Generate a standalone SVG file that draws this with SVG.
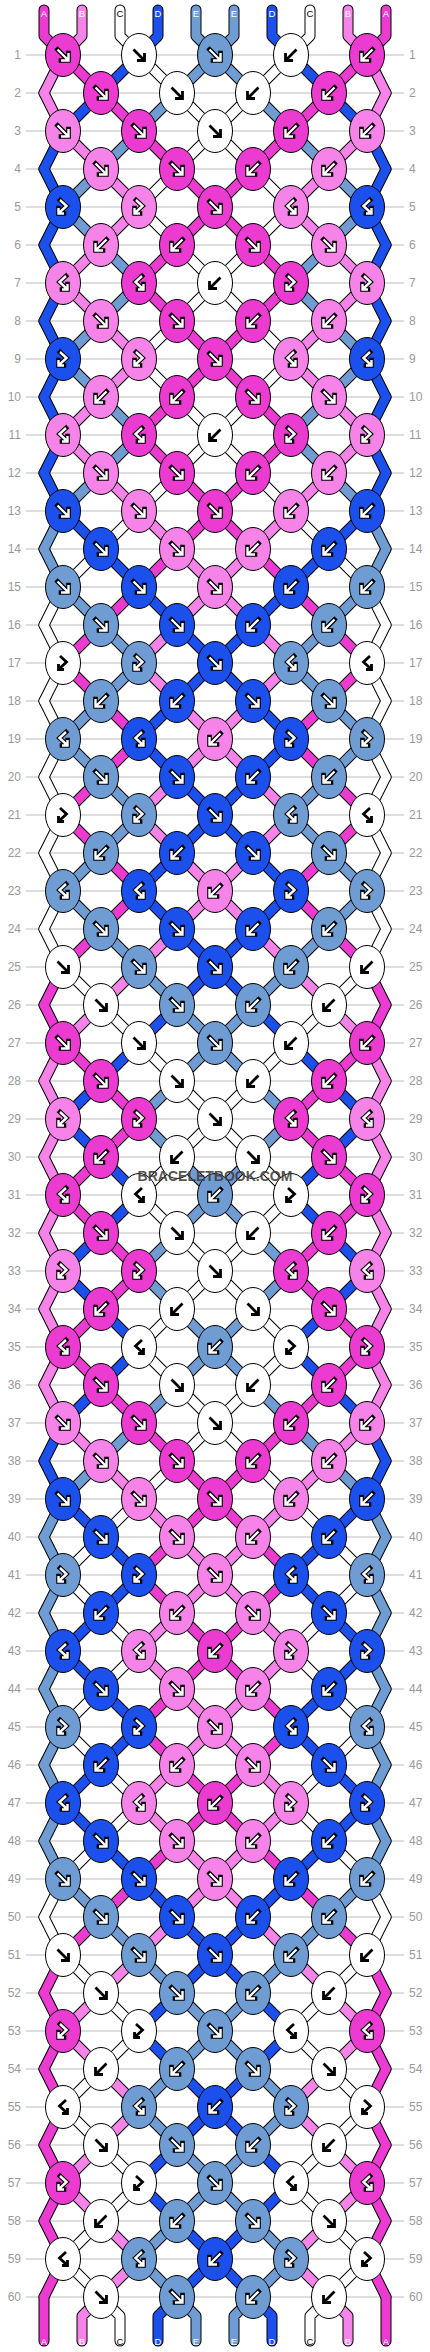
<svg xmlns="http://www.w3.org/2000/svg" xmlns:xlink="http://www.w3.org/1999/xlink" width="430" height="2352" viewBox="0 0 430 2352">
<style>
.ln{fill:none;stroke:#bbb;stroke-width:1}
.num{font-family:"Liberation Sans",Arial,sans-serif;font-size:12px;fill:#999}
.ol{fill:none;stroke:#000;stroke-width:11;stroke-linecap:round;stroke-linejoin:round}
.fl{fill:none;stroke-width:9;stroke-linecap:round;stroke-linejoin:round}
.sM{stroke:#eb3bd0}.sP{stroke:#f683e8}.sW{stroke:#fff}.sD{stroke:#1c50ec}.sL{stroke:#6f9dd3}
.e{stroke:#000;stroke-width:1}
.go{fill:none;stroke:#000;stroke-width:4.6;stroke-linecap:square}
.gi{fill:none;stroke:#fff;stroke-width:2.4}
.gb{fill:none;stroke:#000;stroke-width:2.8}
.lab{font-family:"Liberation Sans",Arial,sans-serif;font-size:9.5px;text-anchor:middle}
.wm{font-family:"Liberation Sans",Arial,sans-serif;font-size:14px;font-weight:bold;fill:#3c3c3c;fill-opacity:.88;text-anchor:middle}
</style>
<defs>
<path id="gF" d="M-5.5-5.5L4.5 4.5M5.5-2V5.5H-2"/>
<path id="gB" d="M5.5-5.5L-4.5 4.5M-5.5-2V5.5H2"/>
<path id="gfb" d="M-3-7L3.5-1L-3.5 5.5M-4.5 1V6.5H1"/>
<path id="gbf" d="M3-7L-3.5-1L3.5 5.5M4.5 1V6.5H-1"/>
<g id="wF"><use href="#gF" class="go"/><use href="#gF" class="gi"/></g>
<g id="wB"><use href="#gB" class="go"/><use href="#gB" class="gi"/></g>
<g id="wfb"><use href="#gfb" class="go"/><use href="#gfb" class="gi"/></g>
<g id="wbf"><use href="#gbf" class="go"/><use href="#gbf" class="gi"/></g>
<ellipse id="eM" class="e" fill="#eb3bd0" rx="17.5" ry="21.5"/>
<ellipse id="eP" class="e" fill="#f683e8" rx="17.5" ry="21.5"/>
<ellipse id="eW" class="e" fill="#fff" rx="17.5" ry="21.5"/>
<ellipse id="eD" class="e" fill="#1c50ec" rx="17.5" ry="21.5"/>
<ellipse id="eL" class="e" fill="#6f9dd3" rx="17.5" ry="21.5"/>
<g id="MF"><use href="#eM"/><use href="#wF"/></g>
<g id="MB"><use href="#eM"/><use href="#wB"/></g>
<g id="Mfb"><use href="#eM"/><use href="#wfb"/></g>
<g id="Mbf"><use href="#eM"/><use href="#wbf"/></g>
<g id="PF"><use href="#eP"/><use href="#wF"/></g>
<g id="PB"><use href="#eP"/><use href="#wB"/></g>
<g id="Pfb"><use href="#eP"/><use href="#wfb"/></g>
<g id="Pbf"><use href="#eP"/><use href="#wbf"/></g>
<g id="DF"><use href="#eD"/><use href="#wF"/></g>
<g id="DB"><use href="#eD"/><use href="#wB"/></g>
<g id="Dfb"><use href="#eD"/><use href="#wfb"/></g>
<g id="Dbf"><use href="#eD"/><use href="#wbf"/></g>
<g id="LF"><use href="#eL"/><use href="#wF"/></g>
<g id="LB"><use href="#eL"/><use href="#wB"/></g>
<g id="Lfb"><use href="#eL"/><use href="#wfb"/></g>
<g id="Lbf"><use href="#eL"/><use href="#wbf"/></g>
<g id="WF"><use href="#eW"/><use href="#gF" class="gb"/></g>
<g id="WB"><use href="#eW"/><use href="#gB" class="gb"/></g>
<g id="Wfb"><use href="#eW"/><use href="#gfb" class="gb"/></g>
<g id="Wbf"><use href="#eW"/><use href="#gbf" class="gb"/></g>
<path id="o0" d="M63 0l-19 38M367 0l19 38"/>
<path id="o1" d="M63 0l38 38M367 0l-38 38"/>
<path id="o2" d="M139 0l-38 38M291 0l38 38"/>
<path id="o3" d="M139 0l38 38M291 0l-38 38"/>
<path id="o4" d="M177 38L215 0L253 38"/>
<path id="e0" d="M44 0l19 38M386 0l-19 38"/>
<path id="e1" d="M101 0l-38 38M329 0l38 38"/>
<path id="e2" d="M101 0l38 38M329 0l-38 38"/>
<path id="e3" d="M177 0l-38 38M253 0l38 38"/>
<path id="e4" d="M177 0l38 38M253 0l-38 38"/>
<g id="Oo"><use href="#o0"/><use href="#o1"/><use href="#o2"/><use href="#o3"/><use href="#o4"/></g>
<g id="Oe"><use href="#e0"/><use href="#e1"/><use href="#e2"/><use href="#e3"/><use href="#e4"/></g>
<g id="S0o"><use href="#o0" class="sM"/><use href="#o1" class="sP"/><use href="#o2" class="sW"/><use href="#o3" class="sD"/><use href="#o4" class="sL"/></g>
<g id="S1o"><use href="#o0" class="sP"/><use href="#o1" class="sM"/><use href="#o2" class="sD"/><use href="#o3" class="sW"/><use href="#o4" class="sL"/></g>
<g id="S2o"><use href="#o0" class="sP"/><use href="#o1" class="sD"/><use href="#o2" class="sM"/><use href="#o3" class="sL"/><use href="#o4" class="sW"/></g>
<g id="S3o"><use href="#o0" class="sD"/><use href="#o1" class="sP"/><use href="#o2" class="sL"/><use href="#o3" class="sM"/><use href="#o4" class="sW"/></g>
<g id="S4o"><use href="#o0" class="sD"/><use href="#o1" class="sL"/><use href="#o2" class="sP"/><use href="#o3" class="sW"/><use href="#o4" class="sM"/></g>
<g id="S5o"><use href="#o0" class="sL"/><use href="#o1" class="sD"/><use href="#o2" class="sW"/><use href="#o3" class="sP"/><use href="#o4" class="sM"/></g>
<g id="S6o"><use href="#o0" class="sL"/><use href="#o1" class="sW"/><use href="#o2" class="sD"/><use href="#o3" class="sM"/><use href="#o4" class="sP"/></g>
<g id="S7o"><use href="#o0" class="sW"/><use href="#o1" class="sL"/><use href="#o2" class="sM"/><use href="#o3" class="sD"/><use href="#o4" class="sP"/></g>
<g id="S8o"><use href="#o0" class="sW"/><use href="#o1" class="sM"/><use href="#o2" class="sL"/><use href="#o3" class="sP"/><use href="#o4" class="sD"/></g>
<g id="S9o"><use href="#o0" class="sM"/><use href="#o1" class="sW"/><use href="#o2" class="sP"/><use href="#o3" class="sL"/><use href="#o4" class="sD"/></g>
<g id="S0e"><use href="#e0" class="sM"/><use href="#e1" class="sP"/><use href="#e2" class="sW"/><use href="#e3" class="sD"/><use href="#e4" class="sL"/></g>
<g id="S1e"><use href="#e0" class="sP"/><use href="#e1" class="sM"/><use href="#e2" class="sD"/><use href="#e3" class="sW"/><use href="#e4" class="sL"/></g>
<g id="S2e"><use href="#e0" class="sP"/><use href="#e1" class="sD"/><use href="#e2" class="sM"/><use href="#e3" class="sL"/><use href="#e4" class="sW"/></g>
<g id="S3e"><use href="#e0" class="sD"/><use href="#e1" class="sP"/><use href="#e2" class="sL"/><use href="#e3" class="sM"/><use href="#e4" class="sW"/></g>
<g id="S4e"><use href="#e0" class="sD"/><use href="#e1" class="sL"/><use href="#e2" class="sP"/><use href="#e3" class="sW"/><use href="#e4" class="sM"/></g>
<g id="S5e"><use href="#e0" class="sL"/><use href="#e1" class="sD"/><use href="#e2" class="sW"/><use href="#e3" class="sP"/><use href="#e4" class="sM"/></g>
<g id="S6e"><use href="#e0" class="sL"/><use href="#e1" class="sW"/><use href="#e2" class="sD"/><use href="#e3" class="sM"/><use href="#e4" class="sP"/></g>
<g id="S7e"><use href="#e0" class="sW"/><use href="#e1" class="sL"/><use href="#e2" class="sM"/><use href="#e3" class="sD"/><use href="#e4" class="sP"/></g>
<g id="S8e"><use href="#e0" class="sW"/><use href="#e1" class="sM"/><use href="#e2" class="sL"/><use href="#e3" class="sP"/><use href="#e4" class="sD"/></g>
<g id="S9e"><use href="#e0" class="sM"/><use href="#e1" class="sW"/><use href="#e2" class="sP"/><use href="#e3" class="sL"/><use href="#e4" class="sD"/></g>
<path id="top" d="M44 10V36L63 55M82 10V36L63 55M120 10V36L139 55M158 10V36L139 55M196 10V36L215 55M234 10V36L215 55M272 10V36L291 55M310 10V36L291 55M348 10V36L367 55M386 10V36L367 55"/>
<path id="bot" d="M44 2297V2341M101 2297L82 2316V2341M101 2297L120 2316V2341M177 2297L158 2316V2341M177 2297L196 2316V2341M253 2297L234 2316V2341M253 2297L272 2316V2341M329 2297L310 2316V2341M329 2297L348 2316V2341M386 2297V2341"/>
</defs>
<rect width="430" height="2352" fill="#fff"/>
<g id="grid">
<path class="ln" d="M26 55H404M26 93H404M26 131H404M26 169H404M26 207H404M26 245H404M26 283H404M26 321H404M26 359H404M26 397H404M26 435H404M26 473H404M26 511H404M26 549H404M26 587H404M26 625H404M26 663H404M26 701H404M26 739H404M26 777H404M26 815H404M26 853H404M26 891H404M26 929H404M26 967H404M26 1005H404M26 1043H404M26 1081H404M26 1119H404M26 1157H404M26 1195H404M26 1233H404M26 1271H404M26 1309H404M26 1347H404M26 1385H404M26 1423H404M26 1461H404M26 1499H404M26 1537H404M26 1575H404M26 1613H404M26 1651H404M26 1689H404M26 1727H404M26 1765H404M26 1803H404M26 1841H404M26 1879H404M26 1917H404M26 1955H404M26 1993H404M26 2031H404M26 2069H404M26 2107H404M26 2145H404M26 2183H404M26 2221H404M26 2259H404M26 2297H404"/>
<g class="num" text-anchor="end" transform="translate(21 4.3)">
<text y="55">1</text><text y="93">2</text><text y="131">3</text><text y="169">4</text><text y="207">5</text><text y="245">6</text><text y="283">7</text><text y="321">8</text><text y="359">9</text><text y="397">10</text><text y="435">11</text><text y="473">12</text><text y="511">13</text><text y="549">14</text><text y="587">15</text><text y="625">16</text><text y="663">17</text><text y="701">18</text><text y="739">19</text><text y="777">20</text><text y="815">21</text><text y="853">22</text><text y="891">23</text><text y="929">24</text><text y="967">25</text><text y="1005">26</text><text y="1043">27</text><text y="1081">28</text><text y="1119">29</text><text y="1157">30</text><text y="1195">31</text><text y="1233">32</text><text y="1271">33</text><text y="1309">34</text><text y="1347">35</text><text y="1385">36</text><text y="1423">37</text><text y="1461">38</text><text y="1499">39</text><text y="1537">40</text><text y="1575">41</text><text y="1613">42</text><text y="1651">43</text><text y="1689">44</text><text y="1727">45</text><text y="1765">46</text><text y="1803">47</text><text y="1841">48</text><text y="1879">49</text><text y="1917">50</text><text y="1955">51</text><text y="1993">52</text><text y="2031">53</text><text y="2069">54</text><text y="2107">55</text><text y="2145">56</text><text y="2183">57</text><text y="2221">58</text><text y="2259">59</text><text y="2297">60</text>
</g>
<g class="num" text-anchor="start" transform="translate(409 4.3)">
<text y="55">1</text><text y="93">2</text><text y="131">3</text><text y="169">4</text><text y="207">5</text><text y="245">6</text><text y="283">7</text><text y="321">8</text><text y="359">9</text><text y="397">10</text><text y="435">11</text><text y="473">12</text><text y="511">13</text><text y="549">14</text><text y="587">15</text><text y="625">16</text><text y="663">17</text><text y="701">18</text><text y="739">19</text><text y="777">20</text><text y="815">21</text><text y="853">22</text><text y="891">23</text><text y="929">24</text><text y="967">25</text><text y="1005">26</text><text y="1043">27</text><text y="1081">28</text><text y="1119">29</text><text y="1157">30</text><text y="1195">31</text><text y="1233">32</text><text y="1271">33</text><text y="1309">34</text><text y="1347">35</text><text y="1385">36</text><text y="1423">37</text><text y="1461">38</text><text y="1499">39</text><text y="1537">40</text><text y="1575">41</text><text y="1613">42</text><text y="1651">43</text><text y="1689">44</text><text y="1727">45</text><text y="1765">46</text><text y="1803">47</text><text y="1841">48</text><text y="1879">49</text><text y="1917">50</text><text y="1955">51</text><text y="1993">52</text><text y="2031">53</text><text y="2069">54</text><text y="2107">55</text><text y="2145">56</text><text y="2183">57</text><text y="2221">58</text><text y="2259">59</text><text y="2297">60</text>
</g>
</g>
<g id="connectors">
<g class="ol">
<use href="#top"/><use href="#bot"/>
<use href="#Oo" y="55"/><use href="#Oe" y="93"/><use href="#Oo" y="131"/><use href="#Oe" y="169"/><use href="#Oo" y="207"/><use href="#Oe" y="245"/><use href="#Oo" y="283"/><use href="#Oe" y="321"/><use href="#Oo" y="359"/><use href="#Oe" y="397"/><use href="#Oo" y="435"/><use href="#Oe" y="473"/><use href="#Oo" y="511"/><use href="#Oe" y="549"/><use href="#Oo" y="587"/><use href="#Oe" y="625"/><use href="#Oo" y="663"/><use href="#Oe" y="701"/><use href="#Oo" y="739"/><use href="#Oe" y="777"/><use href="#Oo" y="815"/><use href="#Oe" y="853"/><use href="#Oo" y="891"/><use href="#Oe" y="929"/><use href="#Oo" y="967"/><use href="#Oe" y="1005"/><use href="#Oo" y="1043"/><use href="#Oe" y="1081"/><use href="#Oo" y="1119"/><use href="#Oe" y="1157"/><use href="#Oo" y="1195"/><use href="#Oe" y="1233"/><use href="#Oo" y="1271"/><use href="#Oe" y="1309"/><use href="#Oo" y="1347"/><use href="#Oe" y="1385"/><use href="#Oo" y="1423"/><use href="#Oe" y="1461"/><use href="#Oo" y="1499"/><use href="#Oe" y="1537"/><use href="#Oo" y="1575"/><use href="#Oe" y="1613"/><use href="#Oo" y="1651"/><use href="#Oe" y="1689"/><use href="#Oo" y="1727"/><use href="#Oe" y="1765"/><use href="#Oo" y="1803"/><use href="#Oe" y="1841"/><use href="#Oo" y="1879"/><use href="#Oe" y="1917"/><use href="#Oo" y="1955"/><use href="#Oe" y="1993"/><use href="#Oo" y="2031"/><use href="#Oe" y="2069"/><use href="#Oo" y="2107"/><use href="#Oe" y="2145"/><use href="#Oo" y="2183"/><use href="#Oe" y="2221"/><use href="#Oo" y="2259"/>
</g>
<g class="fl">
<path class="sM" d="M44 10V36L63 55M386 10V36L367 55M44 2297V2341M386 2297V2341"/>
<path class="sP" d="M82 10V36L63 55M348 10V36L367 55M101 2297L82 2316V2341M329 2297L348 2316V2341"/>
<path class="sW" d="M120 10V36L139 55M310 10V36L291 55M101 2297L120 2316V2341M329 2297L310 2316V2341"/>
<path class="sD" d="M158 10V36L139 55M272 10V36L291 55M177 2297L158 2316V2341M253 2297L272 2316V2341"/>
<path class="sL" d="M196 10V36L215 55M234 10V36L215 55M177 2297L196 2316V2341M253 2297L234 2316V2341"/>
<use href="#S1o" y="55"/><use href="#S2e" y="93"/><use href="#S3o" y="131"/><use href="#S4e" y="169"/><use href="#S4o" y="207"/><use href="#S3e" y="245"/><use href="#S3o" y="283"/><use href="#S4e" y="321"/><use href="#S4o" y="359"/><use href="#S3e" y="397"/><use href="#S3o" y="435"/><use href="#S4e" y="473"/><use href="#S5o" y="511"/><use href="#S6e" y="549"/><use href="#S7o" y="587"/><use href="#S8e" y="625"/><use href="#S8o" y="663"/><use href="#S7e" y="701"/><use href="#S7o" y="739"/><use href="#S8e" y="777"/><use href="#S8o" y="815"/><use href="#S7e" y="853"/><use href="#S7o" y="891"/><use href="#S8e" y="929"/><use href="#S9o" y="967"/><use href="#S0e" y="1005"/><use href="#S1o" y="1043"/><use href="#S2e" y="1081"/><use href="#S2o" y="1119"/><use href="#S1e" y="1157"/><use href="#S1o" y="1195"/><use href="#S2e" y="1233"/><use href="#S2o" y="1271"/><use href="#S1e" y="1309"/><use href="#S1o" y="1347"/><use href="#S2e" y="1385"/><use href="#S3o" y="1423"/><use href="#S4e" y="1461"/><use href="#S5o" y="1499"/><use href="#S6e" y="1537"/><use href="#S6o" y="1575"/><use href="#S5e" y="1613"/><use href="#S5o" y="1651"/><use href="#S6e" y="1689"/><use href="#S6o" y="1727"/><use href="#S5e" y="1765"/><use href="#S5o" y="1803"/><use href="#S6e" y="1841"/><use href="#S7o" y="1879"/><use href="#S8e" y="1917"/><use href="#S9o" y="1955"/><use href="#S0e" y="1993"/><use href="#S0o" y="2031"/><use href="#S9e" y="2069"/><use href="#S9o" y="2107"/><use href="#S0e" y="2145"/><use href="#S0o" y="2183"/><use href="#S9e" y="2221"/><use href="#S9o" y="2259"/>
</g>
</g>
<g id="labels" class="lab">
<text x="44" y="16.5" fill="#fff">A</text><text x="82" y="16.5" fill="#fff">B</text><text x="120" y="16.5" fill="#000">C</text><text x="158" y="16.5" fill="#fff">D</text><text x="196" y="16.5" fill="#fff">E</text><text x="234" y="16.5" fill="#fff">E</text><text x="272" y="16.5" fill="#fff">D</text><text x="310" y="16.5" fill="#000">C</text><text x="348" y="16.5" fill="#fff">B</text><text x="386" y="16.5" fill="#fff">A</text>
<text x="44" y="2345" fill="#fff">A</text><text x="82" y="2345" fill="#fff">B</text><text x="120" y="2345" fill="#000">C</text><text x="158" y="2345" fill="#fff">D</text><text x="196" y="2345" fill="#fff">E</text><text x="234" y="2345" fill="#fff">E</text><text x="272" y="2345" fill="#fff">D</text><text x="310" y="2345" fill="#000">C</text><text x="348" y="2345" fill="#fff">B</text><text x="386" y="2345" fill="#fff">A</text>
</g>
<g id="knots">
<g id="n1_1"><use href="#MF" x="63" y="55"/></g><g id="n1_2"><use href="#WF" x="139" y="55"/></g><g id="n1_3"><use href="#LF" x="215" y="55"/></g><g id="n1_4"><use href="#WB" x="291" y="55"/></g><g id="n1_5"><use href="#MB" x="367" y="55"/></g>
<g id="n2_1"><use href="#MF" x="101" y="93"/></g><g id="n2_2"><use href="#WF" x="177" y="93"/></g><g id="n2_3"><use href="#WB" x="253" y="93"/></g><g id="n2_4"><use href="#MB" x="329" y="93"/></g>
<g id="n3_1"><use href="#PF" x="63" y="131"/></g><g id="n3_2"><use href="#MF" x="139" y="131"/></g><g id="n3_3"><use href="#WF" x="215" y="131"/></g><g id="n3_4"><use href="#MB" x="291" y="131"/></g><g id="n3_5"><use href="#PB" x="367" y="131"/></g>
<g id="n4_1"><use href="#PF" x="101" y="169"/></g><g id="n4_2"><use href="#MF" x="177" y="169"/></g><g id="n4_3"><use href="#MB" x="253" y="169"/></g><g id="n4_4"><use href="#PB" x="329" y="169"/></g>
<g id="n5_1"><use href="#Dfb" x="63" y="207"/></g><g id="n5_2"><use href="#Pfb" x="139" y="207"/></g><g id="n5_3"><use href="#MF" x="215" y="207"/></g><g id="n5_4"><use href="#Pbf" x="291" y="207"/></g><g id="n5_5"><use href="#Dbf" x="367" y="207"/></g>
<g id="n6_1"><use href="#PB" x="101" y="245"/></g><g id="n6_2"><use href="#MB" x="177" y="245"/></g><g id="n6_3"><use href="#MF" x="253" y="245"/></g><g id="n6_4"><use href="#PF" x="329" y="245"/></g>
<g id="n7_1"><use href="#Pbf" x="63" y="283"/></g><g id="n7_2"><use href="#Mbf" x="139" y="283"/></g><g id="n7_3"><use href="#WB" x="215" y="283"/></g><g id="n7_4"><use href="#Mfb" x="291" y="283"/></g><g id="n7_5"><use href="#Pfb" x="367" y="283"/></g>
<g id="n8_1"><use href="#PF" x="101" y="321"/></g><g id="n8_2"><use href="#MF" x="177" y="321"/></g><g id="n8_3"><use href="#MB" x="253" y="321"/></g><g id="n8_4"><use href="#PB" x="329" y="321"/></g>
<g id="n9_1"><use href="#Dfb" x="63" y="359"/></g><g id="n9_2"><use href="#Pfb" x="139" y="359"/></g><g id="n9_3"><use href="#MF" x="215" y="359"/></g><g id="n9_4"><use href="#Pbf" x="291" y="359"/></g><g id="n9_5"><use href="#Dbf" x="367" y="359"/></g>
<g id="n10_1"><use href="#PB" x="101" y="397"/></g><g id="n10_2"><use href="#MB" x="177" y="397"/></g><g id="n10_3"><use href="#MF" x="253" y="397"/></g><g id="n10_4"><use href="#PF" x="329" y="397"/></g>
<g id="n11_1"><use href="#Pbf" x="63" y="435"/></g><g id="n11_2"><use href="#Mbf" x="139" y="435"/></g><g id="n11_3"><use href="#WB" x="215" y="435"/></g><g id="n11_4"><use href="#Mfb" x="291" y="435"/></g><g id="n11_5"><use href="#Pfb" x="367" y="435"/></g>
<g id="n12_1"><use href="#PF" x="101" y="473"/></g><g id="n12_2"><use href="#MF" x="177" y="473"/></g><g id="n12_3"><use href="#MB" x="253" y="473"/></g><g id="n12_4"><use href="#PB" x="329" y="473"/></g>
<g id="n13_1"><use href="#DF" x="63" y="511"/></g><g id="n13_2"><use href="#PF" x="139" y="511"/></g><g id="n13_3"><use href="#MF" x="215" y="511"/></g><g id="n13_4"><use href="#PB" x="291" y="511"/></g><g id="n13_5"><use href="#DB" x="367" y="511"/></g>
<g id="n14_1"><use href="#DF" x="101" y="549"/></g><g id="n14_2"><use href="#PF" x="177" y="549"/></g><g id="n14_3"><use href="#PB" x="253" y="549"/></g><g id="n14_4"><use href="#DB" x="329" y="549"/></g>
<g id="n15_1"><use href="#LF" x="63" y="587"/></g><g id="n15_2"><use href="#DF" x="139" y="587"/></g><g id="n15_3"><use href="#PF" x="215" y="587"/></g><g id="n15_4"><use href="#DB" x="291" y="587"/></g><g id="n15_5"><use href="#LB" x="367" y="587"/></g>
<g id="n16_1"><use href="#LF" x="101" y="625"/></g><g id="n16_2"><use href="#DF" x="177" y="625"/></g><g id="n16_3"><use href="#DB" x="253" y="625"/></g><g id="n16_4"><use href="#LB" x="329" y="625"/></g>
<g id="n17_1"><use href="#Wfb" x="63" y="663"/></g><g id="n17_2"><use href="#Lfb" x="139" y="663"/></g><g id="n17_3"><use href="#DF" x="215" y="663"/></g><g id="n17_4"><use href="#Lbf" x="291" y="663"/></g><g id="n17_5"><use href="#Wbf" x="367" y="663"/></g>
<g id="n18_1"><use href="#LB" x="101" y="701"/></g><g id="n18_2"><use href="#DB" x="177" y="701"/></g><g id="n18_3"><use href="#DF" x="253" y="701"/></g><g id="n18_4"><use href="#LF" x="329" y="701"/></g>
<g id="n19_1"><use href="#Lbf" x="63" y="739"/></g><g id="n19_2"><use href="#Dbf" x="139" y="739"/></g><g id="n19_3"><use href="#PB" x="215" y="739"/></g><g id="n19_4"><use href="#Dfb" x="291" y="739"/></g><g id="n19_5"><use href="#Lfb" x="367" y="739"/></g>
<g id="n20_1"><use href="#LF" x="101" y="777"/></g><g id="n20_2"><use href="#DF" x="177" y="777"/></g><g id="n20_3"><use href="#DB" x="253" y="777"/></g><g id="n20_4"><use href="#LB" x="329" y="777"/></g>
<g id="n21_1"><use href="#Wfb" x="63" y="815"/></g><g id="n21_2"><use href="#Lfb" x="139" y="815"/></g><g id="n21_3"><use href="#DF" x="215" y="815"/></g><g id="n21_4"><use href="#Lbf" x="291" y="815"/></g><g id="n21_5"><use href="#Wbf" x="367" y="815"/></g>
<g id="n22_1"><use href="#LB" x="101" y="853"/></g><g id="n22_2"><use href="#DB" x="177" y="853"/></g><g id="n22_3"><use href="#DF" x="253" y="853"/></g><g id="n22_4"><use href="#LF" x="329" y="853"/></g>
<g id="n23_1"><use href="#Lbf" x="63" y="891"/></g><g id="n23_2"><use href="#Dbf" x="139" y="891"/></g><g id="n23_3"><use href="#PB" x="215" y="891"/></g><g id="n23_4"><use href="#Dfb" x="291" y="891"/></g><g id="n23_5"><use href="#Lfb" x="367" y="891"/></g>
<g id="n24_1"><use href="#LF" x="101" y="929"/></g><g id="n24_2"><use href="#DF" x="177" y="929"/></g><g id="n24_3"><use href="#DB" x="253" y="929"/></g><g id="n24_4"><use href="#LB" x="329" y="929"/></g>
<g id="n25_1"><use href="#WF" x="63" y="967"/></g><g id="n25_2"><use href="#LF" x="139" y="967"/></g><g id="n25_3"><use href="#DF" x="215" y="967"/></g><g id="n25_4"><use href="#LB" x="291" y="967"/></g><g id="n25_5"><use href="#WB" x="367" y="967"/></g>
<g id="n26_1"><use href="#WF" x="101" y="1005"/></g><g id="n26_2"><use href="#LF" x="177" y="1005"/></g><g id="n26_3"><use href="#LB" x="253" y="1005"/></g><g id="n26_4"><use href="#WB" x="329" y="1005"/></g>
<g id="n27_1"><use href="#MF" x="63" y="1043"/></g><g id="n27_2"><use href="#WF" x="139" y="1043"/></g><g id="n27_3"><use href="#LF" x="215" y="1043"/></g><g id="n27_4"><use href="#WB" x="291" y="1043"/></g><g id="n27_5"><use href="#MB" x="367" y="1043"/></g>
<g id="n28_1"><use href="#MF" x="101" y="1081"/></g><g id="n28_2"><use href="#WF" x="177" y="1081"/></g><g id="n28_3"><use href="#WB" x="253" y="1081"/></g><g id="n28_4"><use href="#MB" x="329" y="1081"/></g>
<g id="n29_1"><use href="#Pfb" x="63" y="1119"/></g><g id="n29_2"><use href="#Mfb" x="139" y="1119"/></g><g id="n29_3"><use href="#WF" x="215" y="1119"/></g><g id="n29_4"><use href="#Mbf" x="291" y="1119"/></g><g id="n29_5"><use href="#Pbf" x="367" y="1119"/></g>
<g id="n30_1"><use href="#MB" x="101" y="1157"/></g><g id="n30_2"><use href="#WB" x="177" y="1157"/></g><g id="n30_3"><use href="#WF" x="253" y="1157"/></g><g id="n30_4"><use href="#MF" x="329" y="1157"/></g>
<g id="n31_1"><use href="#Mbf" x="63" y="1195"/></g><g id="n31_2"><use href="#Wbf" x="139" y="1195"/></g><g id="n31_3"><use href="#LB" x="215" y="1195"/></g><g id="n31_4"><use href="#Wfb" x="291" y="1195"/></g><g id="n31_5"><use href="#Mfb" x="367" y="1195"/></g>
<g id="n32_1"><use href="#MF" x="101" y="1233"/></g><g id="n32_2"><use href="#WF" x="177" y="1233"/></g><g id="n32_3"><use href="#WB" x="253" y="1233"/></g><g id="n32_4"><use href="#MB" x="329" y="1233"/></g>
<g id="n33_1"><use href="#Pfb" x="63" y="1271"/></g><g id="n33_2"><use href="#Mfb" x="139" y="1271"/></g><g id="n33_3"><use href="#WF" x="215" y="1271"/></g><g id="n33_4"><use href="#Mbf" x="291" y="1271"/></g><g id="n33_5"><use href="#Pbf" x="367" y="1271"/></g>
<g id="n34_1"><use href="#MB" x="101" y="1309"/></g><g id="n34_2"><use href="#WB" x="177" y="1309"/></g><g id="n34_3"><use href="#WF" x="253" y="1309"/></g><g id="n34_4"><use href="#MF" x="329" y="1309"/></g>
<g id="n35_1"><use href="#Mbf" x="63" y="1347"/></g><g id="n35_2"><use href="#Wbf" x="139" y="1347"/></g><g id="n35_3"><use href="#LB" x="215" y="1347"/></g><g id="n35_4"><use href="#Wfb" x="291" y="1347"/></g><g id="n35_5"><use href="#Mfb" x="367" y="1347"/></g>
<g id="n36_1"><use href="#MF" x="101" y="1385"/></g><g id="n36_2"><use href="#WF" x="177" y="1385"/></g><g id="n36_3"><use href="#WB" x="253" y="1385"/></g><g id="n36_4"><use href="#MB" x="329" y="1385"/></g>
<g id="n37_1"><use href="#PF" x="63" y="1423"/></g><g id="n37_2"><use href="#MF" x="139" y="1423"/></g><g id="n37_3"><use href="#WF" x="215" y="1423"/></g><g id="n37_4"><use href="#MB" x="291" y="1423"/></g><g id="n37_5"><use href="#PB" x="367" y="1423"/></g>
<g id="n38_1"><use href="#PF" x="101" y="1461"/></g><g id="n38_2"><use href="#MF" x="177" y="1461"/></g><g id="n38_3"><use href="#MB" x="253" y="1461"/></g><g id="n38_4"><use href="#PB" x="329" y="1461"/></g>
<g id="n39_1"><use href="#DF" x="63" y="1499"/></g><g id="n39_2"><use href="#PF" x="139" y="1499"/></g><g id="n39_3"><use href="#MF" x="215" y="1499"/></g><g id="n39_4"><use href="#PB" x="291" y="1499"/></g><g id="n39_5"><use href="#DB" x="367" y="1499"/></g>
<g id="n40_1"><use href="#DF" x="101" y="1537"/></g><g id="n40_2"><use href="#PF" x="177" y="1537"/></g><g id="n40_3"><use href="#PB" x="253" y="1537"/></g><g id="n40_4"><use href="#DB" x="329" y="1537"/></g>
<g id="n41_1"><use href="#Lfb" x="63" y="1575"/></g><g id="n41_2"><use href="#Dfb" x="139" y="1575"/></g><g id="n41_3"><use href="#PF" x="215" y="1575"/></g><g id="n41_4"><use href="#Dbf" x="291" y="1575"/></g><g id="n41_5"><use href="#Lbf" x="367" y="1575"/></g>
<g id="n42_1"><use href="#DB" x="101" y="1613"/></g><g id="n42_2"><use href="#PB" x="177" y="1613"/></g><g id="n42_3"><use href="#PF" x="253" y="1613"/></g><g id="n42_4"><use href="#DF" x="329" y="1613"/></g>
<g id="n43_1"><use href="#Dbf" x="63" y="1651"/></g><g id="n43_2"><use href="#Pbf" x="139" y="1651"/></g><g id="n43_3"><use href="#MB" x="215" y="1651"/></g><g id="n43_4"><use href="#Pfb" x="291" y="1651"/></g><g id="n43_5"><use href="#Dfb" x="367" y="1651"/></g>
<g id="n44_1"><use href="#DF" x="101" y="1689"/></g><g id="n44_2"><use href="#PF" x="177" y="1689"/></g><g id="n44_3"><use href="#PB" x="253" y="1689"/></g><g id="n44_4"><use href="#DB" x="329" y="1689"/></g>
<g id="n45_1"><use href="#Lfb" x="63" y="1727"/></g><g id="n45_2"><use href="#Dfb" x="139" y="1727"/></g><g id="n45_3"><use href="#PF" x="215" y="1727"/></g><g id="n45_4"><use href="#Dbf" x="291" y="1727"/></g><g id="n45_5"><use href="#Lbf" x="367" y="1727"/></g>
<g id="n46_1"><use href="#DB" x="101" y="1765"/></g><g id="n46_2"><use href="#PB" x="177" y="1765"/></g><g id="n46_3"><use href="#PF" x="253" y="1765"/></g><g id="n46_4"><use href="#DF" x="329" y="1765"/></g>
<g id="n47_1"><use href="#Dbf" x="63" y="1803"/></g><g id="n47_2"><use href="#Pbf" x="139" y="1803"/></g><g id="n47_3"><use href="#MB" x="215" y="1803"/></g><g id="n47_4"><use href="#Pfb" x="291" y="1803"/></g><g id="n47_5"><use href="#Dfb" x="367" y="1803"/></g>
<g id="n48_1"><use href="#DF" x="101" y="1841"/></g><g id="n48_2"><use href="#PF" x="177" y="1841"/></g><g id="n48_3"><use href="#PB" x="253" y="1841"/></g><g id="n48_4"><use href="#DB" x="329" y="1841"/></g>
<g id="n49_1"><use href="#LF" x="63" y="1879"/></g><g id="n49_2"><use href="#DF" x="139" y="1879"/></g><g id="n49_3"><use href="#PF" x="215" y="1879"/></g><g id="n49_4"><use href="#DB" x="291" y="1879"/></g><g id="n49_5"><use href="#LB" x="367" y="1879"/></g>
<g id="n50_1"><use href="#LF" x="101" y="1917"/></g><g id="n50_2"><use href="#DF" x="177" y="1917"/></g><g id="n50_3"><use href="#DB" x="253" y="1917"/></g><g id="n50_4"><use href="#LB" x="329" y="1917"/></g>
<g id="n51_1"><use href="#WF" x="63" y="1955"/></g><g id="n51_2"><use href="#LF" x="139" y="1955"/></g><g id="n51_3"><use href="#DF" x="215" y="1955"/></g><g id="n51_4"><use href="#LB" x="291" y="1955"/></g><g id="n51_5"><use href="#WB" x="367" y="1955"/></g>
<g id="n52_1"><use href="#WF" x="101" y="1993"/></g><g id="n52_2"><use href="#LF" x="177" y="1993"/></g><g id="n52_3"><use href="#LB" x="253" y="1993"/></g><g id="n52_4"><use href="#WB" x="329" y="1993"/></g>
<g id="n53_1"><use href="#Mfb" x="63" y="2031"/></g><g id="n53_2"><use href="#Wfb" x="139" y="2031"/></g><g id="n53_3"><use href="#LF" x="215" y="2031"/></g><g id="n53_4"><use href="#Wbf" x="291" y="2031"/></g><g id="n53_5"><use href="#Mbf" x="367" y="2031"/></g>
<g id="n54_1"><use href="#WB" x="101" y="2069"/></g><g id="n54_2"><use href="#LB" x="177" y="2069"/></g><g id="n54_3"><use href="#LF" x="253" y="2069"/></g><g id="n54_4"><use href="#WF" x="329" y="2069"/></g>
<g id="n55_1"><use href="#Wbf" x="63" y="2107"/></g><g id="n55_2"><use href="#Lbf" x="139" y="2107"/></g><g id="n55_3"><use href="#DB" x="215" y="2107"/></g><g id="n55_4"><use href="#Lfb" x="291" y="2107"/></g><g id="n55_5"><use href="#Wfb" x="367" y="2107"/></g>
<g id="n56_1"><use href="#WF" x="101" y="2145"/></g><g id="n56_2"><use href="#LF" x="177" y="2145"/></g><g id="n56_3"><use href="#LB" x="253" y="2145"/></g><g id="n56_4"><use href="#WB" x="329" y="2145"/></g>
<g id="n57_1"><use href="#Mfb" x="63" y="2183"/></g><g id="n57_2"><use href="#Wfb" x="139" y="2183"/></g><g id="n57_3"><use href="#LF" x="215" y="2183"/></g><g id="n57_4"><use href="#Wbf" x="291" y="2183"/></g><g id="n57_5"><use href="#Mbf" x="367" y="2183"/></g>
<g id="n58_1"><use href="#WB" x="101" y="2221"/></g><g id="n58_2"><use href="#LB" x="177" y="2221"/></g><g id="n58_3"><use href="#LF" x="253" y="2221"/></g><g id="n58_4"><use href="#WF" x="329" y="2221"/></g>
<g id="n59_1"><use href="#Wbf" x="63" y="2259"/></g><g id="n59_2"><use href="#Lbf" x="139" y="2259"/></g><g id="n59_3"><use href="#DB" x="215" y="2259"/></g><g id="n59_4"><use href="#Lfb" x="291" y="2259"/></g><g id="n59_5"><use href="#Wfb" x="367" y="2259"/></g>
<g id="n60_1"><use href="#WF" x="101" y="2297"/></g><g id="n60_2"><use href="#LF" x="177" y="2297"/></g><g id="n60_3"><use href="#LB" x="253" y="2297"/></g><g id="n60_4"><use href="#WB" x="329" y="2297"/></g>
</g>
<text class="wm" x="215" y="1181">BRACELETBOOK.COM</text>
</svg>
